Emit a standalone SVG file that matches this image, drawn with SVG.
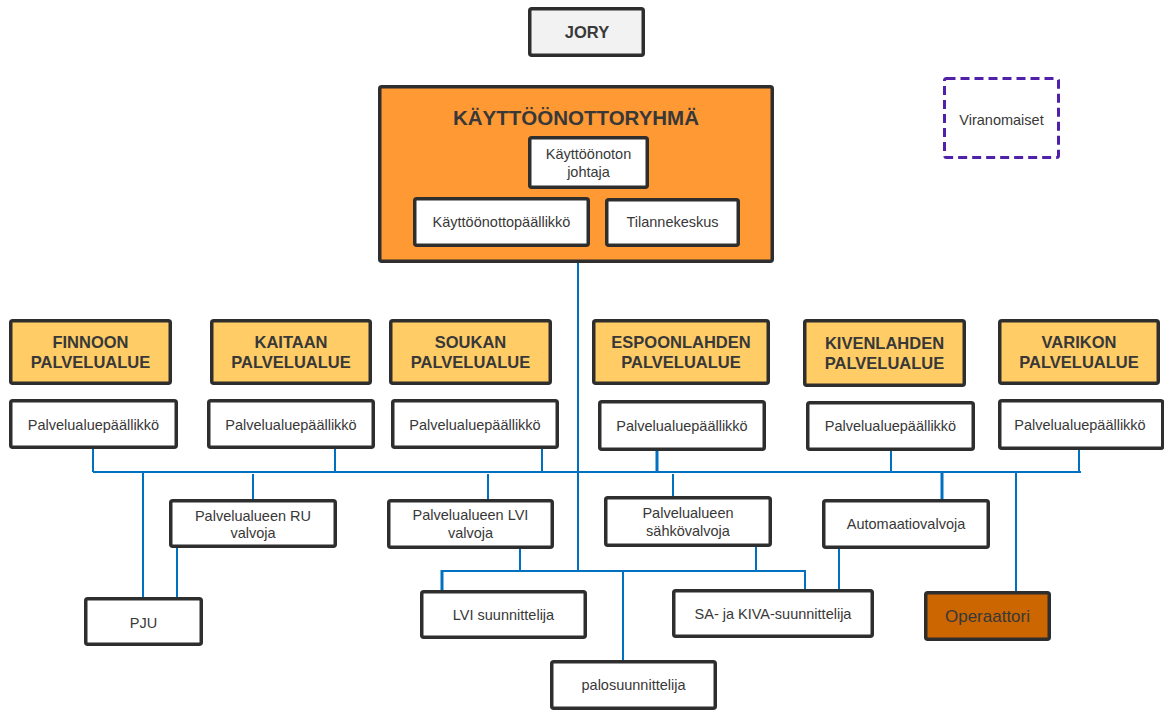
<svg xmlns="http://www.w3.org/2000/svg" width="1164" height="711" viewBox="0 0 1164 711">
  <style>
    .box { fill: #ffffff; stroke: #2e2e2e; stroke-width: 3.5; }
    .area { fill: #ffcc66; stroke: #2e2e2e; stroke-width: 3.5; }
    .group { fill: #ff9933; stroke: #2e2e2e; stroke-width: 3.5; }
    .jory { fill: #f2f2f2; stroke: #2e2e2e; stroke-width: 3.5; }
    .oper { fill: #cc6600; stroke: #2e2e2e; stroke-width: 3.5; }
    .auth { fill: #ffffff; stroke: #5020a8; stroke-width: 3; stroke-dasharray: 9 5; }
    text { font-family: "Liberation Sans", Arial, sans-serif; fill: #383838; text-anchor: middle; }
    .t { font-size: 14.5px; }
    .b { font-size: 16.5px; font-weight: bold; }
    .h { font-size: 20.5px; font-weight: bold; }
    .o { font-size: 17px; }
    .c { fill: none; stroke: #0070c0; stroke-width: 2; }
    .c3 { fill: none; stroke: #0070c0; stroke-width: 3; }
  </style>

  <!-- connectors -->
  <g id="connectors">
    <path class="c" d="M578 263 V572"/>
    <path class="c" d="M93 472 H1081"/>
    <path class="c" d="M93 449 V472 M335 449 V472 M542 449 V472 M891 451 V472 M1079 450 V472"/>
    <path class="c3" d="M657 451 V472"/>
    <path class="c" d="M143 472 V597 M253 474 V499 M488 474 V499 M673 474 V496 M1016 472 V591"/>
    <path class="c3" d="M942 472 V499"/>
    <path class="c" d="M177 548 V597"/>
    <path class="c" d="M520 549 V571 M756 547 V571 M623 571 V660 M839 549 V589"/>
    <path class="c" d="M442 571 H805 V589"/>
    <path class="c3" d="M442 570 V590"/>
  </g>

  <g id="jory">
    <rect class="jory" x="529.75" y="8.75" width="113.5" height="46.5" rx="2"/>
    <text class="b" x="587" y="38">JORY</text>
  </g>

  <g id="kayttoonottoryhma">
    <rect class="group" x="379.75" y="86.75" width="392.5" height="174.5" rx="2"/>
    <text class="h" x="576" y="125">KÄYTTÖÖNOTTORYHMÄ</text>
  </g>

  <g id="johtaja">
    <rect class="box" x="529.75" y="137.75" width="117.5" height="49.5" rx="2"/>
    <text class="t" x="588.5" y="159">Käyttöönoton</text>
    <text class="t" x="588.5" y="177">johtaja</text>
  </g>

  <g id="paallikko">
    <rect class="box" x="414.75" y="198.75" width="173.5" height="46.5" rx="2"/>
    <text class="t" x="501.5" y="227">Käyttöönottopäällikkö</text>
  </g>

  <g id="tilannekeskus">
    <rect class="box" x="606.75" y="199.75" width="131.5" height="45.5" rx="2"/>
    <text class="t" x="672.5" y="227">Tilannekeskus</text>
  </g>

  <g id="viranomaiset">
    <rect class="auth" x="944.5" y="78.5" width="114" height="79" rx="2"/>
    <text class="t" x="1001.5" y="125">Viranomaiset</text>
  </g>

  <!-- service areas -->
  <g id="finnoon">
    <rect class="area" x="10.75" y="320.75" width="159.5" height="62.5" rx="2"/>
    <text class="b" x="90.5" y="348">FINNOON</text>
    <text class="b" x="90.5" y="368">PALVELUALUE</text>
  </g>
  <g id="finnoon-paallikko">
    <rect class="box" x="10.75" y="400.75" width="165.5" height="46.5" rx="2"/>
    <text class="t" x="93.5" y="430">Palvelualuepäällikkö</text>
  </g>

  <g id="kaitaan">
    <rect class="area" x="211.75" y="320.75" width="158.5" height="62.5" rx="2"/>
    <text class="b" x="291" y="348">KAITAAN</text>
    <text class="b" x="291" y="368">PALVELUALUE</text>
  </g>
  <g id="kaitaan-paallikko">
    <rect class="box" x="208.75" y="400.75" width="164.5" height="46.5" rx="2"/>
    <text class="t" x="291" y="430">Palvelualuepäällikkö</text>
  </g>

  <g id="soukan">
    <rect class="area" x="390.75" y="320.75" width="159.5" height="62.5" rx="2"/>
    <text class="b" x="470.5" y="348">SOUKAN</text>
    <text class="b" x="470.5" y="368">PALVELUALUE</text>
  </g>
  <g id="soukan-paallikko">
    <rect class="box" x="392.75" y="400.75" width="164.5" height="46.5" rx="2"/>
    <text class="t" x="475" y="430">Palvelualuepäällikkö</text>
  </g>

  <g id="espoonlahden">
    <rect class="area" x="593.75" y="320.75" width="174.5" height="62.5" rx="2"/>
    <text class="b" x="681" y="348">ESPOONLAHDEN</text>
    <text class="b" x="681" y="368">PALVELUALUE</text>
  </g>
  <g id="espoonlahden-paallikko">
    <rect class="box" x="599.75" y="401.75" width="164.5" height="47.5" rx="2"/>
    <text class="t" x="682" y="431">Palvelualuepäällikkö</text>
  </g>

  <g id="kivenlahden">
    <rect class="area" x="804.75" y="320.75" width="159.5" height="64.5" rx="2"/>
    <text class="b" x="884.5" y="349">KIVENLAHDEN</text>
    <text class="b" x="884.5" y="369">PALVELUALUE</text>
  </g>
  <g id="kivenlahden-paallikko">
    <rect class="box" x="807.75" y="402.75" width="165.5" height="46.5" rx="2"/>
    <text class="t" x="890.5" y="431">Palvelualuepäällikkö</text>
  </g>

  <g id="varikon">
    <rect class="area" x="999.75" y="320.75" width="158.5" height="62.5" rx="2"/>
    <text class="b" x="1079" y="348">VARIKON</text>
    <text class="b" x="1079" y="368">PALVELUALUE</text>
  </g>
  <g id="varikon-paallikko">
    <rect class="box" x="999.75" y="400.75" width="163" height="47.5" rx="2"/>
    <text class="t" x="1080" y="430">Palvelualuepäällikkö</text>
  </g>

  <!-- supervisors -->
  <g id="ru-valvoja">
    <rect class="box" x="170.75" y="500.75" width="164.5" height="45.5" rx="2"/>
    <text class="t" x="253" y="521">Palvelualueen RU</text>
    <text class="t" x="253" y="538">valvoja</text>
  </g>

  <g id="lvi-valvoja">
    <rect class="box" x="388.75" y="500.75" width="163.5" height="46.5" rx="2"/>
    <text class="t" x="470.5" y="520">Palvelualueen LVI</text>
    <text class="t" x="470.5" y="538">valvoja</text>
  </g>

  <g id="sahkovalvoja">
    <rect class="box" x="605.75" y="497.75" width="164.5" height="47.5" rx="2"/>
    <text class="t" x="688" y="518">Palvelualueen</text>
    <text class="t" x="688" y="536">sähkövalvoja</text>
  </g>

  <g id="automaatiovalvoja">
    <rect class="box" x="823.75" y="500.75" width="164.5" height="46.5" rx="2"/>
    <text class="t" x="906" y="529">Automaatiovalvoja</text>
  </g>

  <!-- designers and operator -->
  <g id="pju">
    <rect class="box" x="85.75" y="598.75" width="115.5" height="45.5" rx="2"/>
    <text class="t" x="143.5" y="628">PJU</text>
  </g>

  <g id="lvi-suunnittelija">
    <rect class="box" x="421.75" y="591.75" width="163.5" height="45.5" rx="2"/>
    <text class="t" x="503.5" y="620">LVI suunnittelija</text>
  </g>

  <g id="sa-kiva-suunnittelija">
    <rect class="box" x="673.75" y="590.75" width="198.5" height="45.5" rx="2"/>
    <text class="t" x="773" y="619">SA- ja KIVA-suunnittelija</text>
  </g>

  <g id="operaattori">
    <rect class="oper" x="925.75" y="592.75" width="123.5" height="46.5" rx="2"/>
    <text class="o" x="987.5" y="622">Operaattori</text>
  </g>

  <g id="palosuunnittelija">
    <rect class="box" x="551.75" y="661.75" width="163.5" height="46.5" rx="2"/>
    <text class="t" x="633.5" y="690">palosuunnittelija</text>
  </g>
</svg>
